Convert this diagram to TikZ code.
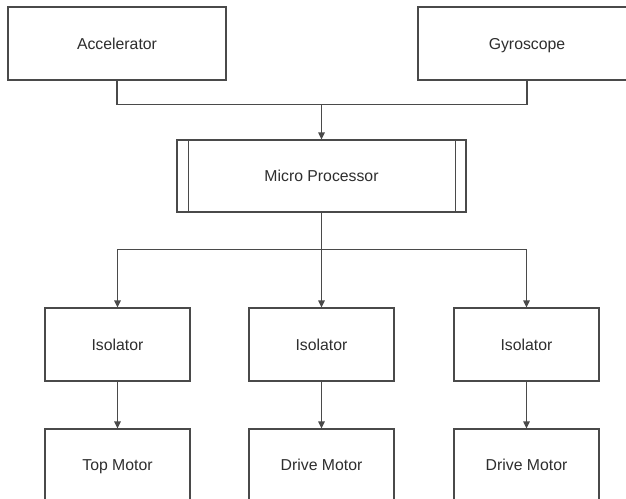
\documentclass[tikz,border=0pt]{standalone}
\usepackage{fontspec}
\setmainfont{Liberation Sans}
\usetikzlibrary{arrows.meta}
\definecolor{ln}{HTML}{4A4A4A}
\definecolor{tx}{HTML}{2E2E2E}
\begin{document}
\begin{tikzpicture}[x=1pt,y=-1pt,
  box/.style={draw=ln,line width=1.2pt,fill=white,minimum width=218pt,minimum height=73pt,inner sep=0pt,text=tx,text height=11.3pt,text depth=0pt,font=\fontsize{15.8}{18}\selectfont},
  iso/.style={box,minimum width=145pt},
  conn/.style={draw=ln,line width=1.2pt},
  arr/.style={conn,-{Triangle[width=6.5pt,length=7pt]}}]
\path[use as bounding box] (0,0) rectangle (626,498);
\begin{scope}
\clip (0,0) rectangle (626,498);
\node[box] (acc) at (117,43.5) {Accelerator};
\node[box] (gyr) at (527,43.5) {Gyroscope};
\node[box,minimum width=289pt,minimum height=72pt] (mp) at (321.5,176) {Micro Processor};
\draw[conn] ([xshift=12pt]mp.north west) -- ([xshift=12pt]mp.south west);
\draw[conn] ([xshift=-11pt]mp.north east) -- ([xshift=-11pt]mp.south east);
\node[iso] (i1) at (117.5,344.5) {Isolator};
\node[iso] (i2) at (321.5,344.5) {Isolator};
\node[iso] (i3) at (526.5,344.5) {Isolator};
\node[iso,minimum height=72pt] (m1) at (117.5,465) {Top Motor};
\node[iso,minimum height=72pt] (m2) at (321.5,465) {Drive Motor};
\node[iso,minimum height=72pt] (m3) at (526.5,465) {Drive Motor};
\draw[conn] (acc.south) -- ++(0,24) coordinate (j1) -| (gyr.south);
\draw[arr] (mp.north |- j1) -- (mp.north);
\draw[conn] (mp.south) -- ++(0,37) coordinate (j2);
\draw[arr] (j2) -| (i1.north);
\draw[arr] (j2) -| (i3.north);
\draw[arr] (j2) -- (i2.north);
\draw[arr] (i1) -- (m1);
\draw[arr] (i2) -- (m2);
\draw[arr] (i3) -- (m3);
\end{scope}
\end{tikzpicture}
\end{document}
